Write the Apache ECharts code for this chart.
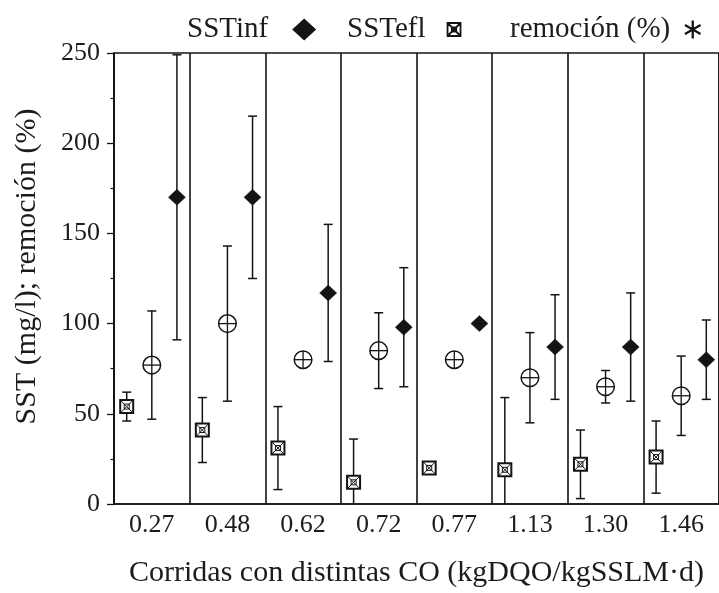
<!DOCTYPE html>
<html>
<head>
<meta charset="utf-8">
<script src="https://cdn.jsdelivr.net/npm/echarts@6/dist/echarts.min.js"></script>
<style>
  html, body { margin: 0; padding: 0; background: #fff; }
  #chart { width: 719px; height: 593px; }
</style>
</head>
<body>
<div id="chart"></div>
<script>
// Runs at different organic loads (kgDQO/kgSSLM·d)
const categories = ['0.27', '0.48', '0.62', '0.72', '0.77', '1.13', '1.30', '1.46'];

// Influent suspended solids (mg/l): mean and ± deviation
const sstInf    = [170, 170, 117, 98, 100, 87, 87, 80];
const sstInfErr = [79, 45, 38, 33, 0, 29, 30, 22];

// Effluent suspended solids (mg/l)
const sstEfl    = [54, 41, 31, 12, 20, 19, 22, 26];
const sstEflErr = [8, 18, 23, 24, 0, 40, 19, 20];

// Removal (%)
const remocion    = [77, 100, 80, 85, 80, 70, 65, 60];
const remocionErr = [30, 43, 0, 21, 0, 25, 9, 22];

// Y axis range and step
const yMin = 0, yMax = 250, yStep = 50;

const INK = '#141414';
const TEXT = '#1c1c1c';
const FONT = '"Liberation Serif", "Times New Roman", Times, serif';

function squareMark(x, y) {
  const h = 6.5;
  return [
    { type: 'rect', shape: { x: x - h, y: y - h, width: 2 * h, height: 2 * h },
      style: { fill: '#fff', stroke: INK, lineWidth: 2 } },
    { type: 'line', shape: { x1: x - h, y1: y - h, x2: x + h, y2: y + h },
      style: { stroke: INK, lineWidth: 1 } },
    { type: 'line', shape: { x1: x + h, y1: y - h, x2: x - h, y2: y + h },
      style: { stroke: INK, lineWidth: 1 } },
    { type: 'rect', shape: { x: x - 2.5, y: y - 2.5, width: 5, height: 5 },
      style: { fill: 'none', stroke: INK, lineWidth: 1 } }
  ];
}

function circlePlusMark(x, y) {
  const r = 8.8;
  return [
    { type: 'circle', shape: { cx: x, cy: y, r: r },
      style: { fill: '#fff', stroke: INK, lineWidth: 1.5 } },
    { type: 'line', shape: { x1: x - r, y1: y, x2: x + r, y2: y },
      style: { stroke: INK, lineWidth: 1.3 } },
    { type: 'line', shape: { x1: x, y1: y - r, x2: x, y2: y + r },
      style: { stroke: INK, lineWidth: 1.3 } }
  ];
}

function diamondMark(x, y) {
  const w = 8.5, h = 8;
  return [
    { type: 'polygon', shape: { points: [[x, y - h], [x + w, y], [x, y + h], [x - w, y]] },
      style: { fill: INK, stroke: INK, lineWidth: 0.5 } }
  ];
}

// Each series: mean with a vertical error bar, shifted inside its category band
function errorSeries(name, means, errs, bandOffset, marker) {
  return {
    type: 'custom',
    name: name,
    clip: true,
    data: means.map((m, i) => [i, m, errs[i]]),
    encode: { x: 0, y: 1 },
    renderItem: function (params, api) {
      const i = api.value(0);
      const m = api.value(1);
      const e = api.value(2);
      const band = api.size([1, 0])[0];
      const p = api.coord([i, m]);
      const x = p[0] + bandOffset * band;
      const children = [];
      if (e > 0) {
        const yt = api.coord([i, m + e])[1];
        const yb = api.coord([i, m - e])[1];
        const cap = 4.5;
        const st = { stroke: INK, lineWidth: 1.5 };
        children.push({ type: 'line', shape: { x1: x, y1: yt, x2: x, y2: yb }, style: st });
        children.push({ type: 'line', shape: { x1: x - cap, y1: yt, x2: x + cap, y2: yt }, style: st });
        children.push({ type: 'line', shape: { x1: x - cap, y1: yb, x2: x + cap, y2: yb }, style: st });
      }
      marker(x, p[1]).forEach(c => children.push(c));
      return { type: 'group', children: children };
    }
  };
}

const legendText = (padRight) => ({
  fontFamily: FONT, fontSize: 29, color: TEXT, padding: [0, padRight, 0, 0]
});

const chart = echarts.init(document.getElementById('chart'), null, { renderer: 'canvas' });

chart.setOption({
  backgroundColor: '#fff',
  animation: false,
  grid: {
    left: 114, top: 53, width: 614, height: 454,
    show: true, borderColor: INK, borderWidth: 1.6, backgroundColor: 'transparent'
  },
  legend: [
    {
      data: [{ name: 'SSTinf', icon: 'diamond' }],
      left: 182, top: 10, align: 'right', selectedMode: false,
      itemWidth: 24, itemHeight: 22,
      itemStyle: { color: INK, borderWidth: 0 },
      textStyle: legendText(19)
    },
    {
      data: [{ name: 'SSTefl', icon: 'path://M0,0H12V12H0Z M0,0L12,12 M12,0L0,12 M4,4H8V8H4Z' }],
      left: 342, top: 10, align: 'right', selectedMode: false,
      itemWidth: 13, itemHeight: 13,
      itemStyle: { color: 'transparent', borderColor: INK, borderWidth: 1.8 },
      textStyle: legendText(17)
    },
    {
      data: [{ name: 'remoción (%)', icon: 'path://M8,0V16M1.07,4L14.93,12M14.93,4L1.07,12' }],
      left: 505, top: 10, align: 'right', selectedMode: false,
      itemWidth: 17, itemHeight: 18,
      itemStyle: { color: 'transparent', borderColor: INK, borderWidth: 2.3 },
      textStyle: legendText(9)
    }
  ],
  xAxis: {
    type: 'category',
    data: categories,
    boundaryGap: true,
    name: 'Corridas con distintas CO (kgDQO/kgSSLM·d)',
    nameLocation: 'middle',
    nameGap: 54,
    nameTextStyle: { fontFamily: FONT, fontSize: 30, color: TEXT },
    axisLine: { show: true, lineStyle: { color: INK, width: 1.6 } },
    axisTick: { show: false },
    axisLabel: { interval: 0, margin: 8, fontFamily: FONT, fontSize: 26, color: TEXT },
    splitLine: { show: true, interval: 0, lineStyle: { color: INK, width: 1.6 } }
  },
  yAxis: {
    type: 'value',
    min: yMin, max: yMax, interval: yStep,
    name: 'SST (mg/l); remoción (%)',
    nameLocation: 'middle',
    nameRotate: 90,
    nameGap: 72,
    nameTextStyle: { fontFamily: FONT, fontSize: 30, color: TEXT, padding: [0, 0, 0, 24] },
    axisLine: { show: true, lineStyle: { color: INK, width: 1.6 } },
    axisTick: { show: true, length: 7, lineStyle: { color: INK, width: 1.3 } },
    minorTick: { show: true, splitNumber: 2, length: 3.5, lineStyle: { color: INK, width: 1.2 } },
    axisLabel: { margin: 14, fontFamily: FONT, fontSize: 26, color: TEXT },
    splitLine: { show: false }
  },
  series: [
    errorSeries('SSTefl', sstEfl, sstEflErr, -0.332, squareMark),
    errorSeries('remoción (%)', remocion, remocionErr, 0, circlePlusMark),
    errorSeries('SSTinf', sstInf, sstInfErr, 0.332, diamondMark)
  ]
});
</script>
</body>
</html>
